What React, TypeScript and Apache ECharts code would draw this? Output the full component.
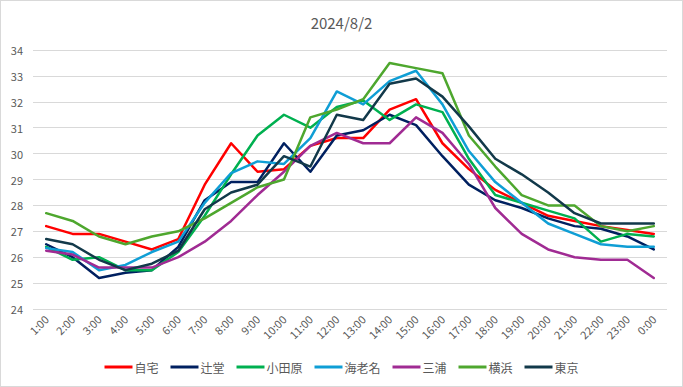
import React, { useEffect, useRef } from "react";
import * as echarts from "echarts";

const title = "2024/8/2";
const hours = ["1:00","2:00","3:00","4:00","5:00","6:00","7:00","8:00","9:00","10:00","11:00","12:00","13:00","14:00","15:00","16:00","17:00","18:00","19:00","20:00","21:00","22:00","23:00","0:00"];

const seriesNames = ["自宅", "辻堂", "小田原", "海老名", "三浦", "横浜", "東京"];
const seriesColors = ["#FF0000", "#002060", "#00B050", "#0F9ED5", "#A02B93", "#4EA72E", "#12394A"];

const jitaku = [27.2, 26.9, 26.9, 26.6, 26.3, 26.7, 28.8, 30.4, 29.3, 29.4, 30.3, 30.6, 30.6, 31.7, 32.1, 30.4, 29.4, 28.6, 28.1, 27.6, 27.4, 27.2, 27.05, 26.9];
const tsujido = [26.5, 26.0, 25.2, 25.4, 25.5, 26.4, 28.2, 28.9, 28.9, 30.4, 29.3, 30.7, 30.9, 31.5, 31.1, 29.9, 28.8, 28.2, 27.9, 27.5, 27.2, 27.1, 26.8, 26.3];
const odawara = [26.4, 25.9, 26.0, 25.5, 25.5, 26.2, 27.6, 29.2, 30.7, 31.5, 31.0, 31.8, 32.05, 31.3, 31.9, 31.6, 29.8, 28.4, 28.1, 27.8, 27.5, 26.6, 26.9, 26.8];
const ebina = [26.35, 26.2, 25.5, 25.7, 26.2, 26.6, 28.1, 29.25, 29.7, 29.6, 30.6, 32.4, 31.9, 32.8, 33.2, 31.9, 30.1, 28.9, 28.1, 27.3, 26.9, 26.5, 26.4, 26.4];
const miura = [26.25, 26.1, 25.6, 25.6, 25.6, 26.0, 26.6, 27.4, 28.4, 29.3, 30.3, 30.8, 30.4, 30.4, 31.4, 30.8, 29.6, 27.9, 26.9, 26.3, 26.0, 25.9, 25.9, 25.2];
const yokohama = [27.7, 27.4, 26.8, 26.5, 26.8, 27.0, 27.5, 28.1, 28.7, 29.0, 31.4, 31.7, 32.1, 33.5, 33.3, 33.1, 30.7, 29.5, 28.4, 28.0, 28.0, 27.2, 27.0, 27.2];
const tokyo = [26.7, 26.5, 25.9, 25.5, 25.75, 26.25, 27.85, 28.5, 28.8, 29.9, 29.5, 31.5, 31.3, 32.7, 32.9, 32.2, 31.05, 29.8, 29.2, 28.5, 27.7, 27.3, 27.3, 27.3];

const seriesData = [jitaku, tsujido, odawara, ebina, miura, yokohama, tokyo];

const yMin = 24;
const yMax = 34;
const yInterval = 1;

const FONT = "'Noto Sans CJK JP', 'Noto Sans', sans-serif";

export default function App() {
  const ref = useRef<HTMLDivElement>(null);
  useEffect(() => {
    if (!ref.current) return;
    const chart = echarts.init(ref.current, null, { renderer: "svg" });
    chart.setOption({
      animation: false,
      backgroundColor: "#ffffff",
      title: {
        text: title,
        left: "center",
        top: 9,
        textStyle: { fontFamily: FONT, fontSize: 15, fontWeight: "normal", color: "#595959" },
      },
      legend: {
        data: seriesNames,
        bottom: 8,
        left: "center",
        icon: "rect",
        itemWidth: 28,
        itemHeight: 3,
        itemGap: 12,
        textStyle: { fontFamily: FONT, fontSize: 12, color: "#595959", padding: [0, 0, 0, -3] },
      },
      grid: { left: 32, right: 15, top: 49, bottom: 77, containLabel: false },
      xAxis: {
        type: "category",
        data: hours,
        boundaryGap: true,
        axisLine: { show: false },
        axisTick: { show: false },
        axisLabel: { rotate: 45, fontFamily: FONT, fontSize: 11, color: "#595959", margin: 8, interval: 0 },
      },
      yAxis: {
        type: "value",
        min: yMin,
        max: yMax,
        interval: yInterval,
        axisLine: { show: false },
        axisTick: { show: false },
        axisLabel: { fontFamily: FONT, fontSize: 11, color: "#595959", margin: 10 },
        splitLine: { lineStyle: { color: "#D9D9D9", width: 1 } },
      },
      series: seriesNames.map((name, i) => ({
        name,
        type: "line",
        data: seriesData[i],
        showSymbol: false,
        symbol: "none",
        color: seriesColors[i],
        lineStyle: { width: 2.5, color: seriesColors[i], cap: "round", join: "round" },
      })),
    });
    return () => chart.dispose();
  }, []);
  return (
    <div
      ref={ref}
      style={{
        position: "fixed",
        left: 0,
        top: 0,
        width: 683,
        height: 387,
        boxSizing: "border-box",
        border: "1px solid #D9D9D9",
        background: "#fff",
      }}
    />
  );
}
